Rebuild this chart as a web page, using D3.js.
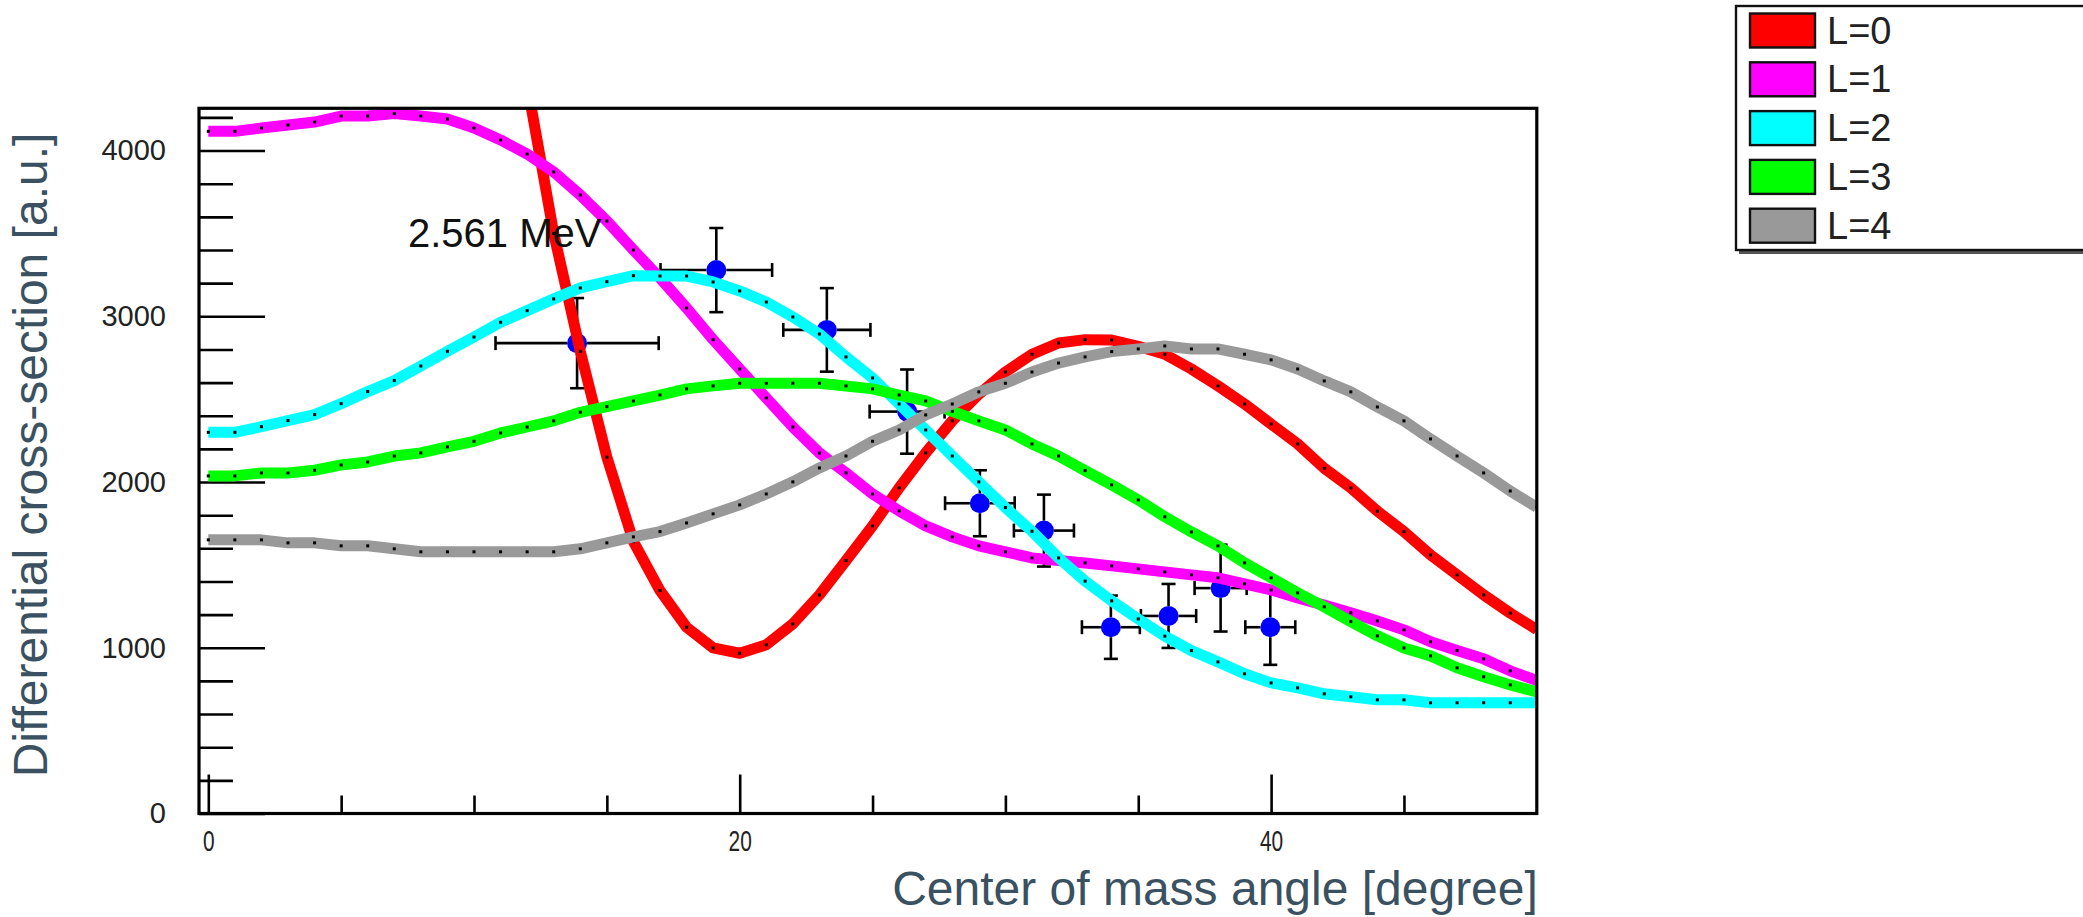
<!DOCTYPE html>
<html>
<head>
<meta charset="utf-8">
<script src="https://cdn.jsdelivr.net/npm/d3@7"></script>
<style>
  html, body { margin: 0; padding: 0; background: #fff; }
  svg { display: block; font-family: "Liberation Sans", Arial, Helvetica, sans-serif; }
</style>
</head>
<body>
<svg id="chart" width="2083" height="917"></svg>
<script>
// ---- data -------------------------------------------------------------
// centre-of-mass angle (degree) at which each calculated curve is sampled
const angles = [0, 1, 2, 3, 4, 5, 6, 7, 8, 9, 10, 11, 12, 13, 14, 15, 16, 17, 18, 19,
  20, 21, 22, 23, 24, 25, 26, 27, 28, 29, 30, 31, 32, 33, 34, 35, 36, 37, 38, 39,
  40, 41, 42, 43, 44, 45, 46, 47, 48, 49, 50];

// calculated differential cross-sections for each transferred L (a.u.)
const curveL0 = [null, null, null, null, null, null, null, null, null, null, null, null,
  4400, 3500, 2789, 2150, 1640, 1345, 1124, 999, 967, 1018, 1144, 1319, 1526, 1735,
  1965, 2176, 2369, 2530, 2664, 2771, 2839, 2859, 2857, 2819, 2771, 2682, 2580, 2471,
  2350, 2230, 2083, 1965, 1824, 1701, 1560, 1440, 1319, 1209, 1110];
const curveL1 = [4116, 4116, 4136, 4154, 4172, 4208, 4208, 4223, 4208, 4190,
  4136, 4064, 3979, 3871, 3732, 3575, 3400, 3231, 3050, 2859,
  2682, 2507, 2332, 2175, 2055, 1928, 1826, 1735, 1669, 1615,
  1579, 1542, 1526, 1512, 1494, 1476, 1458, 1440, 1422, 1386,
  1349, 1301, 1257, 1211, 1162, 1108, 1036, 983, 933, 861, 802];
const curveL2 = [2300, 2300, 2334, 2371, 2407, 2473, 2546, 2612, 2700, 2789,
  2875, 2964, 3034, 3105, 3171, 3209, 3245, 3243, 3243, 3207,
  3153, 3086, 2996, 2893, 2755, 2628, 2471, 2314, 2157, 2001,
  1846, 1703, 1542, 1402, 1283, 1174, 1070, 983, 915, 843,
  788, 758, 722, 704, 686, 686, 668, 668, 668, 668, 668];
const curveL3 = [2037, 2037, 2055, 2055, 2071, 2103, 2121, 2157, 2176, 2212,
  2246, 2296, 2332, 2369, 2421, 2455, 2489, 2525, 2562, 2580,
  2596, 2596, 2596, 2596, 2580, 2562, 2525, 2489, 2427, 2369,
  2314, 2230, 2157, 2069, 1983, 1892, 1790, 1699, 1615, 1512,
  1422, 1331, 1247, 1158, 1072, 999, 951, 879, 825, 776, 734];
const curveL4 = [1651, 1651, 1651, 1633, 1633, 1615, 1615, 1597, 1579, 1579,
  1579, 1579, 1579, 1579, 1597, 1633, 1669, 1701, 1753, 1808,
  1862, 1928, 2001, 2085, 2157, 2246, 2314, 2405, 2471, 2544,
  2596, 2664, 2718, 2755, 2787, 2803, 2821, 2803, 2803, 2771,
  2737, 2682, 2610, 2544, 2453, 2369, 2260, 2157, 2055, 1946, 1848];

const seriesNames = ["L=0", "L=1", "L=2", "L=3", "L=4"];
const seriesColors = ["#ff0000", "#ff00ff", "#00ffff", "#00ff00", "#999999"];
const seriesValues = [curveL0, curveL1, curveL2, curveL3, curveL4];

// measured points with errors
const pointAngle    = [13.88, 19.12, 23.28, 26.30, 29.04, 31.45, 33.97, 36.14, 38.10, 39.97];
const pointValue    = [2838, 3279, 2918, 2425, 1872, 1707, 1124, 1192, 1360, 1124];
const pointAngleErr = [3.07, 2.10, 1.64, 1.41, 1.31, 1.13, 1.09, 1.04, 0.98, 0.94];
const pointValueErr = [272, 254, 252, 254, 199, 217, 191, 193, 262, 227];

// axis ticks
const xMajorTicks = [0, 20, 40];
const xMinorTicks = [5, 10, 15, 25, 30, 35, 45];
const yMajorTicks = [0, 1000, 2000, 3000, 4000];
const yMinorTicks = [200, 400, 600, 800, 1200, 1400, 1600, 1800, 2200, 2400, 2600, 2800,
  3200, 3400, 3600, 3800, 4200];

const energyLabel = "2.561 MeV";

// ---- layout -------------------------------------------------------------
const W = 2083, H = 917;
const frame = { left: 199, right: 1536.8, top: 108.3, bottom: 813.5 };

const svg = d3.select("#chart");
svg.append("rect").attr("width", W).attr("height", H).attr("fill", "#fff");

const x = d3.scaleLinear().domain([-0.35, 50]).range([frame.left, frame.right]);
const y = d3.scaleLinear().domain([0, 4255]).range([frame.bottom, frame.top]);

svg.append("defs").append("clipPath").attr("id", "plotClip")
  .append("rect")
  .attr("x", frame.left).attr("y", frame.top)
  .attr("width", frame.right - frame.left).attr("height", frame.bottom - frame.top);

// ---- ticks (pointing into the frame) ---------------------------------------
function styleTicks(g) {
  g.select(".domain").remove();
  g.selectAll(".tick line").attr("stroke", "#000").attr("stroke-width", 2.6);
}

svg.append("g").attr("transform", `translate(${frame.left},0)`)
  .call(d3.axisRight(y).tickValues(yMinorTicks).tickSize(34).tickFormat(""))
  .call(styleTicks);
svg.append("g").attr("transform", `translate(${frame.left},0)`)
  .call(d3.axisRight(y).tickValues(yMajorTicks).tickSize(66).tickFormat(""))
  .call(styleTicks);

svg.append("g").attr("transform", `translate(0,${frame.bottom})`)
  .call(d3.axisTop(x).tickValues(xMinorTicks).tickSize(18).tickFormat(""))
  .call(styleTicks);
svg.append("g").attr("transform", `translate(0,${frame.bottom})`)
  .call(d3.axisTop(x).tickValues(xMajorTicks).tickSize(39).tickFormat(""))
  .call(styleTicks);

// tick labels
const yLabels = svg.append("g").attr("transform", `translate(${frame.left},0)`)
  .call(d3.axisLeft(y).tickValues(yMajorTicks).tickSize(0).tickPadding(33).tickFormat(d3.format("d")));
yLabels.select(".domain").remove();
yLabels.selectAll("text")
  .attr("font-size", 29).attr("fill", "#222")
  .attr("font-family", "'Liberation Sans', Arial, sans-serif");

const xLabels = svg.append("g").attr("transform", `translate(0,${frame.bottom})`)
  .call(d3.axisBottom(x).tickValues(xMajorTicks).tickSize(0).tickFormat(d3.format("d")));
xLabels.select(".domain").remove();
xLabels.selectAll("text")
  .attr("y", 27.5).attr("dy", "0.36em")
  .attr("font-size", 29).attr("fill", "#222")
  .attr("font-family", "'Liberation Sans', Arial, sans-serif")
  .attr("transform", "scale(0.72,1)");

// ---- measured points (drawn beneath the curves) ----------------------------
const pts = svg.append("g").attr("clip-path", "url(#plotClip)");
const R = 10, CAP = 7;
pointAngle.forEach((a, i) => {
  const cx = x(a), cy = y(pointValue[i]);
  const xl = x(a - pointAngleErr[i]), xr = x(a + pointAngleErr[i]);
  const yt = y(pointValue[i] + pointValueErr[i]), yb = y(pointValue[i] - pointValueErr[i]);
  const g = pts.append("g").attr("stroke", "#000").attr("stroke-width", 2.6);
  g.append("line").attr("x1", xl).attr("x2", cx - R).attr("y1", cy).attr("y2", cy);
  g.append("line").attr("x1", cx + R).attr("x2", xr).attr("y1", cy).attr("y2", cy);
  g.append("line").attr("x1", xl).attr("x2", xl).attr("y1", cy - CAP).attr("y2", cy + CAP);
  g.append("line").attr("x1", xr).attr("x2", xr).attr("y1", cy - CAP).attr("y2", cy + CAP);
  g.append("line").attr("x1", cx).attr("x2", cx).attr("y1", yt).attr("y2", cy - R);
  g.append("line").attr("x1", cx).attr("x2", cx).attr("y1", cy + R).attr("y2", yb);
  g.append("line").attr("x1", cx - CAP).attr("x2", cx + CAP).attr("y1", yt).attr("y2", yt);
  g.append("line").attr("x1", cx - CAP).attr("x2", cx + CAP).attr("y1", yb).attr("y2", yb);
  pts.append("circle").attr("cx", cx).attr("cy", cy).attr("r", R).attr("fill", "#0000ff");
});

// ---- calculated curves ------------------------------------------------------
const curves = svg.append("g").attr("clip-path", "url(#plotClip)");
const line = d3.line()
  .defined(d => d != null)
  .x((d, i) => x(angles[i]))
  .y(d => y(d));

seriesValues.forEach((vals, k) => {
  curves.append("path")
    .attr("d", line(vals))
    .attr("fill", "none")
    .attr("stroke", seriesColors[k])
    .attr("stroke-width", 11)
    .attr("stroke-linejoin", "round");
  curves.append("g").selectAll("rect")
    .data(vals.map((v, i) => [angles[i], v]).filter(p => p[1] != null))
    .join("rect")
    .attr("x", p => x(p[0]) - 1.5).attr("y", p => y(p[1]) - 1.5)
    .attr("width", 3).attr("height", 3).attr("fill", "#000");
});

// ---- frame ------------------------------------------------------------------
svg.append("rect")
  .attr("x", frame.left).attr("y", frame.top)
  .attr("width", frame.right - frame.left).attr("height", frame.bottom - frame.top)
  .attr("fill", "none").attr("stroke", "#000").attr("stroke-width", 3.2);

// energy label
svg.append("text")
  .attr("x", 408).attr("y", 246.5)
  .attr("font-size", 40).attr("fill", "#111")
  .text(energyLabel);

// ---- axis titles ---------------------------------------------------------------
const titleColor = "#3a5161";
svg.append("text")
  .attr("transform", "translate(47,455) rotate(-90)")
  .attr("text-anchor", "middle")
  .attr("font-size", 48).attr("fill", titleColor)
  .text("Differential cross-section [a.u.]");
svg.append("text")
  .attr("x", 1215).attr("y", 905)
  .attr("text-anchor", "middle")
  .attr("font-size", 48).attr("fill", titleColor)
  .text("Center of mass angle [degree]");

// ---- legend ------------------------------------------------------------------
const legend = svg.append("g");
const lx = 1736, ly = 6, lw = 420, lh = 244;
legend.append("rect").attr("x", lx + 3).attr("y", ly + 4).attr("width", lw).attr("height", lh)
  .attr("fill", "#555");
legend.append("rect").attr("x", lx).attr("y", ly).attr("width", lw).attr("height", lh)
  .attr("fill", "#fff").attr("stroke", "#111").attr("stroke-width", 2.4);

const rowY = d3.scaleBand().domain(seriesNames).range([ly + 5, ly + 5 + 5 * 48.8]);
seriesNames.forEach((name, k) => {
  const top = rowY(name) + 2.5;
  legend.append("rect")
    .attr("x", 1750).attr("y", top).attr("width", 65).attr("height", 34)
    .attr("fill", seriesColors[k]).attr("stroke", "#111").attr("stroke-width", 2.4);
  legend.append("text")
    .attr("x", 1827).attr("y", top + 17 + 13)
    .attr("font-size", 38).attr("fill", "#222")
    .text(name);
});
</script>
</body>
</html>
